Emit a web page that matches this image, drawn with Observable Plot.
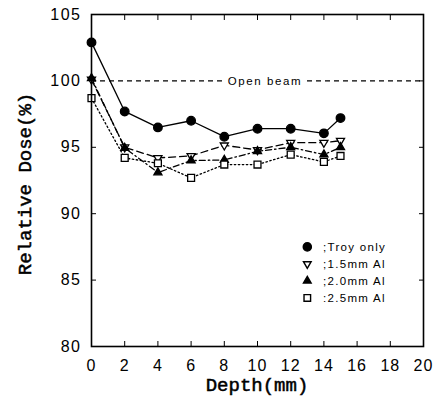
<!DOCTYPE html>
<html><head><meta charset="utf-8">
<script src="https://cdn.jsdelivr.net/npm/d3@7"></script>
<script src="https://cdn.jsdelivr.net/npm/@observablehq/plot@0.6"></script>
<style>
html,body{margin:0;padding:0;background:#fff;}
#chart{width:435px;height:407px;overflow:hidden;}
</style>
</head><body><div id="chart"></div>
<script>
const depth = [0, 2, 4, 6, 8, 10, 12, 14, 15];
const trayOnly = [102.9, 97.7, 96.5, 97.0, 95.8, 96.4, 96.4, 96.05, 97.2];
const al15 = [100.1, 95.0, 94.2, 94.35, 95.15, 94.8, 95.35, 95.35, 95.5];
const al20 = [100.2, 94.95, 93.1, 94.0, 94.05, 94.7, 95.0, 94.45, 95.0];
const al25 = [98.7, 94.2, 93.8, 92.7, 93.7, 93.7, 94.45, 93.9, 94.35];
const seriesNames = [";Troy only", ";1.5mm Al", ";2.0mm Al", ":2.5mm Al"];
const openBeam = [100];
const openBeamLabel = "Open beam";
const xTicks = [0, 2, 4, 6, 8, 10, 12, 14, 16, 18, 20];
const yTicks = [80, 85, 90, 95, 100, 105];

// downward triangle with the same geometry as d3.symbolTriangle, flipped
const downTriangle = {
  draw(context, size) {
    const y = Math.sqrt(size / (Math.sqrt(3) * 3));
    context.moveTo(0, 2 * y);
    context.lineTo(-Math.sqrt(3) * y, -y);
    context.lineTo(Math.sqrt(3) * y, -y);
    context.closePath();
  }
};

const styles = [
  {vals: trayOnly, symbol: "circle", fill: "black", dash: null, r: 4.3},
  {vals: al15, symbol: downTriangle, fill: "white", dash: "7,4", r: 3.0},
  {vals: al20, symbol: "triangle", fill: "black", dash: "6,3,1.5,3", r: 3.0},
  {vals: al25, symbol: "square", fill: "white", dash: "1.5,2.5", r: 3.9}
];

const marks = [];
marks.push(Plot.ruleY(openBeam, {stroke: "black", strokeWidth: 1.1, strokeDasharray: "5,4"}));
marks.push(Plot.text(openBeam, {x: () => 10.45, y: d => d, text: () => openBeamLabel, fill: "black", stroke: "white", strokeWidth: 11, fontSize: 11.5, fontFamily: "Liberation Sans, sans-serif", className: "openbeam"}));

styles.forEach((s) => {
  const rows = depth.map((d, j) => ({x: d, y: s.vals[j]}));
  marks.push(Plot.line(rows, {x: "x", y: "y", stroke: "black", strokeWidth: 1.3, strokeDasharray: s.dash}));
});
styles.forEach((s) => {
  const rows = depth.map((d, j) => ({x: d, y: s.vals[j]}));
  marks.push(Plot.dot(rows, {x: "x", y: "y", symbol: () => s.symbol, r: s.r, fill: s.fill, stroke: "black", strokeWidth: 1.3}));
});

// legend inside the plot area
const legendRows = seriesNames.map((n, i) => ({name: n, i}));
const legX = 13.0, legTextX = 13.95, legTop = 87.5, legStep = 1.28;
styles.forEach((s, i) => {
  marks.push(Plot.dot([legendRows[i]], {x: () => legX, y: d => legTop - d.i * legStep, symbol: () => s.symbol, r: s.r * 0.95, fill: s.fill, stroke: "black", strokeWidth: 1.4}));
});
marks.push(Plot.text(legendRows, {x: () => legTextX, y: d => legTop - d.i * legStep, text: "name", textAnchor: "start", fontSize: 11.5, fontFamily: "Liberation Sans, sans-serif", fill: "black", className: "legend"}));

// axes: inward ticks on all sides
marks.push(Plot.axisX(xTicks, {anchor: "bottom", tickSize: -5, tickPadding: 18, fontSize: 16, fontFamily: "Liberation Sans, sans-serif", label: null, className: "xlab"}));
marks.push(Plot.axisX(xTicks, {anchor: "top", tickSize: -5, tickFormat: () => "", label: null}));
marks.push(Plot.axisY(yTicks, {anchor: "left", tickSize: -5, tickPadding: 15, fontSize: 16, fontFamily: "Liberation Sans, sans-serif", label: null, className: "ylab"}));
marks.push(Plot.axisY(yTicks, {anchor: "right", tickSize: -5, tickFormat: () => "", label: null}));
marks.push(Plot.frame({stroke: "black", strokeWidth: 1.6}));

const chart = Plot.plot({
  width: 435,
  height: 407,
  marginLeft: 91,
  marginRight: 12,
  marginTop: 14,
  marginBottom: 61,
  x: {domain: [0, 20]},
  y: {domain: [80, 105]},
  style: {background: "white", color: "black", overflow: "visible"},
  marks
});

const svg = d3.select(chart);
svg.selectAll(".openbeam text").style("letter-spacing", "1.6px");
svg.selectAll(".legend text").style("letter-spacing", "1.3px");
svg.selectAll(".xlab text").style("letter-spacing", "1px");
svg.selectAll(".ylab text").style("letter-spacing", "1.5px");

// axis titles as real text inside the svg
svg.append("text")
  .attr("x", 91 + (435 - 91 - 12) / 2).attr("y", 391)
  .attr("text-anchor", "middle")
  .attr("font-family", "Liberation Mono, Courier New, monospace")
  .attr("font-size", 19).attr("fill", "black")
  .attr("stroke", "black").attr("stroke-width", 0.5)
  .text("Depth(mm)");
svg.append("text")
  .attr("transform", `translate(31,${14 + (407 - 14 - 61) / 2 + 4}) rotate(-90)`)
  .attr("text-anchor", "middle")
  .attr("font-family", "Liberation Mono, Courier New, monospace")
  .attr("font-size", 19).attr("fill", "black")
  .attr("stroke", "black").attr("stroke-width", 0.5)
  .text("Relative Dose(%)");

document.getElementById("chart").appendChild(chart);
</script>
</body></html>
